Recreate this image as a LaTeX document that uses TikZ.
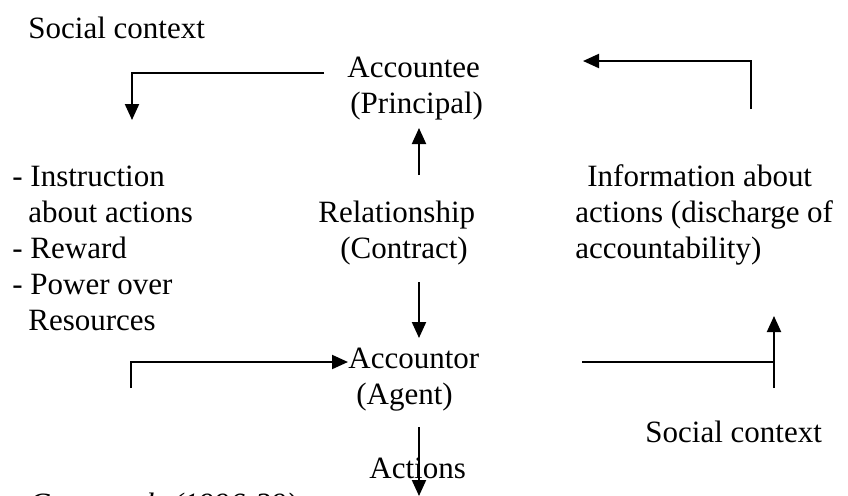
\documentclass[tikz,border=0pt]{standalone}
\usepackage{fontspec}
\setmainfont{Liberation Serif}
\usetikzlibrary{arrows.meta}

\begin{document}
\begin{tikzpicture}[x=0.5pt, y=-0.5pt,
    lbl/.style={anchor=base west, inner sep=0pt, font=\fontsize{15.5}{18}\selectfont},
    arr/.style={-{Triangle[length=8pt,width=7pt]}, line width=1pt},
    ln/.style={line width=1pt}]
  % 1. Frame (pixel grid 848 x 495)
  \useasboundingbox (0,0) rectangle (848,495);
  \clip (0,0) rectangle (848,495);

  % 2. Labels
  \node[lbl] (ctxTop) at (28,38) {Social context};
  \node[lbl] (accountee) at (347,77) {Accountee};
  \node[lbl] (principal) at (350,113) {(Principal)};

  \node[lbl] (instr) at (12,186) {- Instruction};
  \node[lbl] (instrB) at (28,222) {about actions};
  \node[lbl] (reward) at (12,258) {- Reward};
  \node[lbl] (power) at (12,294) {- Power over};
  \node[lbl] (resources) at (28,330) {Resources};

  \node[lbl] (relation) at (318,222) {Relationship};
  \node[lbl] (contract) at (340,258) {(Contract)};

  \node[lbl] (infoA) at (587,186) {Information about};
  \node[lbl] (infoB) at (575,222) {actions (discharge of};
  \node[lbl] (infoC) at (575,258) {accountability)};

  \node[lbl] (accountor) at (348,368) {Accountor};
  \node[lbl] (agent) at (356,404) {(Agent)};
  \node[lbl] (ctxBottom) at (645,442) {Social context};
  \node[lbl] (actions) at (369,478) {Actions};

  \node[lbl, anchor=base east, font=\fontsize{15.5}{18}\selectfont\itshape] (source)
    at (297,514) {by Gray et al. (1996:39)};

  % 3. Connector points
  \coordinate (topL) at (324,73);
  \coordinate (topLc) at (132,73);
  \coordinate (topLe) at (132,120);
  \coordinate (upS) at (419,175);
  \coordinate (upE) at (419,128);
  \coordinate (dnS) at (419,282);
  \coordinate (dnE) at (419,338);
  \coordinate (botLs) at (131,388);
  \coordinate (botLc) at (131,362);
  \coordinate (botLe) at (348,362);
  \coordinate (botRs) at (582,362);
  \coordinate (botRc) at (774,362);
  \coordinate (botRb) at (774,388);
  \coordinate (botRe) at (774,316);
  \coordinate (topRs) at (751,109);
  \coordinate (topRc) at (751,61);
  \coordinate (topRe) at (583,61);
  \coordinate (actS) at (419,427);
  \coordinate (actE) at (419,496);

  % 4. Arrows
  \draw[arr] (topL) -- (topLc) -- (topLe);
  \draw[arr] (upS) -- (upE);
  \draw[arr] (dnS) -- (dnE);
  \draw[arr] (botLs) -- (botLc) -- (botLe);
  \draw[ln] (botRs) -- (botRc);
  \draw[arr] (botRb) -- (botRe);
  \draw[arr] (topRs) -- (topRc) -- (topRe);
  \draw[arr] (actS) -- (actE);
\end{tikzpicture}
\end{document}
